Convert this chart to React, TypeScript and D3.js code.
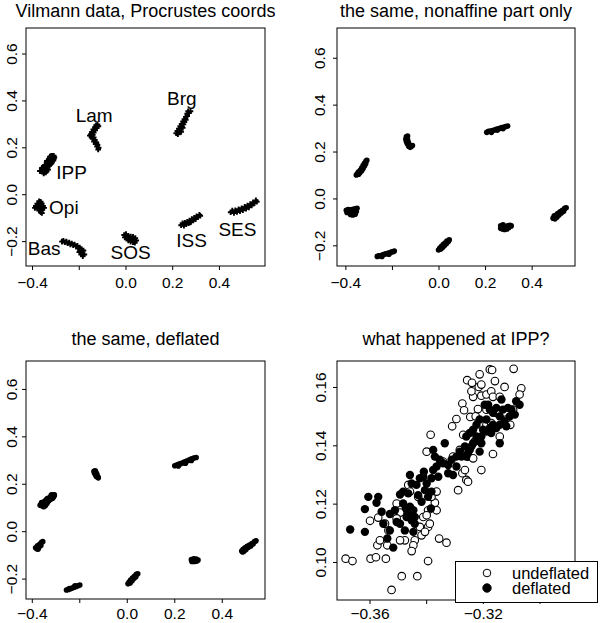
import { useEffect, useRef } from "react";
import * as d3 from "d3";

type Pt = [number, number];

// landmark names and where their labels sit in the first panel
const landmarks = ["IPP", "Lam", "Brg", "Opi", "Bas", "SOS", "ISS", "SES"];
const labelPos: Pt[] = [
  [-0.233, 0.098], [-0.136, 0.34], [0.239, 0.411], [-0.266, -0.054],
  [-0.35, -0.229], [0.02, -0.243], [0.281, -0.193], [0.477, -0.148],
];

// IPP (undeflated = Procrustes coords, deflated)
const ippUndeflated: Pt[] = [
  [-0.3686, 0.1013], [-0.3662, 0.1005], [-0.3598, 0.1013], [-0.3579, 0.1018], [-0.3544, 0.1013],
  [-0.36, 0.1143], [-0.3574, 0.1059], [-0.3539, 0.1059], [-0.3488, 0.0953], [-0.3433, 0.0953],
  [-0.3524, 0.0906], [-0.3395, 0.1005], [-0.3356, 0.1082], [-0.333, 0.1068], [-0.3442, 0.1076],
  [-0.3447, 0.1059], [-0.3453, 0.1039], [-0.3418, 0.1093], [-0.3424, 0.1122], [-0.3395, 0.1122],
  [-0.3389, 0.1133], [-0.3477, 0.1076], [-0.3494, 0.1076], [-0.3535, 0.111], [-0.3565, 0.1076],
  [-0.3547, 0.1133], [-0.3571, 0.1154], [-0.3506, 0.1202], [-0.3494, 0.1171], [-0.3506, 0.1151],
  [-0.3371, 0.1205], [-0.3365, 0.1179], [-0.3383, 0.1225], [-0.3395, 0.1179], [-0.3412, 0.1156],
  [-0.34, 0.1162], [-0.3465, 0.1266], [-0.3459, 0.1243], [-0.343, 0.1225], [-0.3365, 0.1243],
  [-0.3289, 0.1248], [-0.326, 0.1283], [-0.3254, 0.1277], [-0.3207, 0.1317], [-0.3274, 0.1306],
  [-0.3265, 0.1317], [-0.34, 0.138], [-0.3386, 0.1438], [-0.3342, 0.1346], [-0.331, 0.1467],
  [-0.3295, 0.1492], [-0.3271, 0.1438], [-0.3283, 0.1386], [-0.3254, 0.1363], [-0.3236, 0.1357],
  [-0.3166, 0.1372], [-0.323, 0.1415], [-0.3274, 0.1545], [-0.3268, 0.1522], [-0.3246, 0.1499],
  [-0.3227, 0.1501], [-0.3219, 0.1526], [-0.3189, 0.1472], [-0.3172, 0.1478], [-0.3154, 0.1513],
  [-0.3119, 0.149], [-0.3105, 0.1472], [-0.3236, 0.1568], [-0.3207, 0.1572], [-0.3189, 0.1576],
  [-0.3172, 0.1587], [-0.3166, 0.1568], [-0.3142, 0.1568], [-0.3242, 0.1587], [-0.3257, 0.1625],
  [-0.324, 0.1616], [-0.3213, 0.1645], [-0.3216, 0.1602], [-0.3207, 0.161], [-0.3177, 0.1662],
  [-0.3169, 0.166], [-0.3093, 0.1664], [-0.3159, 0.1622], [-0.3125, 0.1602], [-0.3066, 0.1597],
  [-0.3072, 0.1576], [-0.3095, 0.1524], [-0.3142, 0.1432], [-0.3189, 0.1524], [-0.3307, 0.1363],
  [-0.3406, 0.1105],
];
const ippDeflated: Pt[] = [
  [-0.367, 0.1113], [-0.3618, 0.1105], [-0.3618, 0.1183], [-0.3606, 0.1225], [-0.3571, 0.1225],
  [-0.3577, 0.1205], [-0.3559, 0.1174], [-0.353, 0.1166], [-0.3512, 0.1179], [-0.3494, 0.1233],
  [-0.3483, 0.1243], [-0.3465, 0.1237], [-0.3539, 0.1082], [-0.3518, 0.1051], [-0.3494, 0.1133],
  [-0.3477, 0.111], [-0.353, 0.111], [-0.3553, 0.1133], [-0.3459, 0.13], [-0.3453, 0.1271],
  [-0.3424, 0.1289], [-0.341, 0.1311], [-0.3412, 0.1294], [-0.34, 0.1271], [-0.3383, 0.1289],
  [-0.3483, 0.1202], [-0.3473, 0.1185], [-0.3465, 0.1168], [-0.3459, 0.1191], [-0.3447, 0.1179],
  [-0.3442, 0.1156], [-0.3453, 0.1145], [-0.3471, 0.1156], [-0.3442, 0.1133], [-0.3447, 0.1105],
  [-0.343, 0.1231], [-0.3418, 0.1208], [-0.3395, 0.1225], [-0.3383, 0.1243], [-0.3406, 0.1248],
  [-0.3385, 0.1185], [-0.3377, 0.1317], [-0.3365, 0.1329], [-0.3371, 0.1363], [-0.3377, 0.1386],
  [-0.3336, 0.1409], [-0.3342, 0.134], [-0.3324, 0.1334], [-0.3307, 0.13], [-0.3295, 0.1329],
  [-0.3324, 0.1306], [-0.3277, 0.1363], [-0.326, 0.1363], [-0.3254, 0.1375], [-0.3248, 0.1386],
  [-0.3242, 0.1398], [-0.3236, 0.1409], [-0.3224, 0.1432], [-0.3219, 0.1418], [-0.3207, 0.1432],
  [-0.3189, 0.1449], [-0.3177, 0.1461], [-0.3166, 0.1472], [-0.3142, 0.1501], [-0.3189, 0.149],
  [-0.3213, 0.149], [-0.3224, 0.1472], [-0.3236, 0.1455], [-0.326, 0.1432], [-0.3248, 0.1444],
  [-0.3183, 0.1541], [-0.3177, 0.1524], [-0.3166, 0.1513], [-0.3154, 0.153], [-0.3131, 0.1524],
  [-0.3113, 0.153], [-0.3101, 0.1524], [-0.3089, 0.1507], [-0.3107, 0.1501], [-0.3125, 0.1484],
  [-0.3142, 0.1472], [-0.3154, 0.1461], [-0.3172, 0.1444], [-0.3207, 0.1409], [-0.3213, 0.138],
  [-0.3265, 0.1398], [-0.3283, 0.138], [-0.3295, 0.1363], [-0.3312, 0.1352], [-0.3142, 0.1409],
  [-0.3136, 0.1559], [-0.3084, 0.1553], [-0.3072, 0.1541], [-0.3195, 0.1541], [-0.3354, 0.1352],
  [-0.3359, 0.1294], [-0.3436, 0.1266], [-0.3506, 0.1139], [-0.3201, 0.1455], [-0.3119, 0.1467],
];

// the other landmarks, Procrustes coords
const lam1: Pt[] = [
  [-0.122, 0.3], [-0.128, 0.296], [-0.118, 0.292], [-0.133, 0.288], [-0.125, 0.284], [-0.14, 0.278],
  [-0.132, 0.275], [-0.146, 0.268], [-0.138, 0.265], [-0.15, 0.258], [-0.142, 0.255], [-0.148, 0.247],
  [-0.138, 0.244], [-0.143, 0.238], [-0.133, 0.234], [-0.137, 0.227], [-0.128, 0.224], [-0.13, 0.216],
  [-0.122, 0.212], [-0.124, 0.205], [-0.117, 0.2], [-0.119, 0.193], [-0.155, 0.252], [-0.126, 0.22],
];
const brg1: Pt[] = [
  [0.215, 0.262], [0.222, 0.258], [0.22, 0.272], [0.228, 0.268], [0.226, 0.282], [0.234, 0.278],
  [0.232, 0.292], [0.24, 0.29], [0.238, 0.302], [0.246, 0.3], [0.244, 0.312], [0.25, 0.31],
  [0.25, 0.322], [0.256, 0.32], [0.256, 0.332], [0.262, 0.335], [0.262, 0.345], [0.27, 0.348],
  [0.276, 0.356], [0.266, 0.356], [0.236, 0.268], [0.243, 0.285],
];
const opi1: Pt[] = [
  [-0.372, -0.028], [-0.365, -0.03], [-0.38, -0.038], [-0.37, -0.04], [-0.36, -0.038], [-0.386, -0.048],
  [-0.376, -0.05], [-0.365, -0.05], [-0.355, -0.048], [-0.39, -0.056], [-0.38, -0.06], [-0.37, -0.058],
  [-0.358, -0.06], [-0.35, -0.056], [-0.372, -0.068], [-0.362, -0.066], [-0.365, -0.075], [-0.36, -0.078],
];
const bas1: Pt[] = [
  [-0.274, -0.2], [-0.268, -0.196], [-0.262, -0.203], [-0.255, -0.2], [-0.25, -0.207], [-0.243, -0.204],
  [-0.238, -0.212], [-0.232, -0.208], [-0.226, -0.215], [-0.22, -0.212], [-0.214, -0.22], [-0.208, -0.218],
  [-0.205, -0.23], [-0.198, -0.225], [-0.195, -0.24], [-0.19, -0.232], [-0.186, -0.248], [-0.182, -0.238],
  [-0.178, -0.255], [-0.192, -0.255], [-0.2, -0.245], [-0.185, -0.262],
];
const sos1: Pt[] = [
  [-0.008, -0.172], [0.0, -0.168], [0.01, -0.175], [0.02, -0.178], [0.03, -0.18], [0.04, -0.185],
  [-0.005, -0.182], [0.005, -0.185], [0.015, -0.188], [0.025, -0.19], [0.035, -0.192], [0.044, -0.195],
  [0.01, -0.195], [0.02, -0.2], [0.03, -0.202], [0.038, -0.205], [0.0, -0.178],
];
const iss1: Pt[] = [
  [0.236, -0.13], [0.242, -0.122], [0.248, -0.132], [0.252, -0.12], [0.258, -0.126], [0.262, -0.115],
  [0.268, -0.122], [0.272, -0.11], [0.278, -0.116], [0.282, -0.104], [0.288, -0.11], [0.292, -0.098],
  [0.298, -0.104], [0.302, -0.092], [0.308, -0.096], [0.314, -0.086], [0.318, -0.09], [0.245, -0.126],
  [0.275, -0.118],
];
const ses1: Pt[] = [
  [0.448, -0.075], [0.455, -0.068], [0.462, -0.078], [0.468, -0.066], [0.475, -0.074], [0.482, -0.062],
  [0.488, -0.07], [0.495, -0.058], [0.5, -0.066], [0.508, -0.052], [0.514, -0.06], [0.52, -0.046],
  [0.526, -0.054], [0.532, -0.04], [0.538, -0.046], [0.544, -0.032], [0.55, -0.036], [0.556, -0.024],
  [0.56, -0.03],
];

// nonaffine part only
const ipp2: Pt[] = [
  [-0.355, 0.102], [-0.35, 0.108], [-0.345, 0.105], [-0.346, 0.115], [-0.34, 0.112], [-0.338, 0.122],
  [-0.332, 0.12], [-0.332, 0.132], [-0.326, 0.13], [-0.326, 0.142], [-0.32, 0.14], [-0.32, 0.152],
  [-0.315, 0.15], [-0.314, 0.16], [-0.31, 0.165],
];
const lam2: Pt[] = [
  [-0.14, 0.265], [-0.135, 0.268], [-0.142, 0.255], [-0.135, 0.252], [-0.14, 0.245], [-0.132, 0.242],
  [-0.136, 0.235], [-0.128, 0.232], [-0.13, 0.225], [-0.12, 0.224], [-0.114, 0.228], [-0.124, 0.22],
];
const brg2: Pt[] = [
  [0.205, 0.284], [0.213, 0.288], [0.222, 0.289], [0.23, 0.292], [0.238, 0.294], [0.246, 0.297],
  [0.254, 0.299], [0.262, 0.301], [0.27, 0.304], [0.278, 0.306], [0.286, 0.309], [0.295, 0.311],
  [0.225, 0.284], [0.25, 0.293], [0.275, 0.3],
];
const opi2: Pt[] = [
  [-0.398, -0.048], [-0.39, -0.045], [-0.38, -0.046], [-0.37, -0.044], [-0.36, -0.042], [-0.352, -0.04],
  [-0.395, -0.058], [-0.385, -0.058], [-0.375, -0.056], [-0.365, -0.056], [-0.355, -0.054], [-0.38, -0.066],
  [-0.37, -0.068], [-0.36, -0.065],
];
const bas2: Pt[] = [
  [-0.265, -0.245], [-0.258, -0.242], [-0.25, -0.242], [-0.242, -0.238], [-0.235, -0.236], [-0.228, -0.234],
  [-0.22, -0.232], [-0.212, -0.23], [-0.205, -0.226], [-0.198, -0.225], [-0.192, -0.222], [-0.245, -0.245],
  [-0.215, -0.236],
];
const sos2: Pt[] = [
  [-0.002, -0.218], [0.003, -0.21], [0.008, -0.214], [0.01, -0.203], [0.016, -0.206], [0.018, -0.195],
  [0.024, -0.198], [0.026, -0.188], [0.032, -0.19], [0.034, -0.18], [0.04, -0.182], [0.044, -0.174],
];
const iss2: Pt[] = [
  [0.265, -0.115], [0.265, -0.125], [0.272, -0.128], [0.275, -0.118], [0.282, -0.13], [0.285, -0.12],
  [0.292, -0.128], [0.295, -0.115], [0.3, -0.122], [0.305, -0.112], [0.31, -0.115], [0.275, -0.11],
];
const ses2: Pt[] = [
  [0.49, -0.082], [0.495, -0.072], [0.498, -0.085], [0.502, -0.07], [0.506, -0.078], [0.51, -0.062],
  [0.515, -0.068], [0.52, -0.055], [0.525, -0.06], [0.53, -0.048], [0.535, -0.052], [0.54, -0.04],
  [0.546, -0.038],
];

// deflated
const lam3: Pt[] = [
  [-0.14, 0.255], [-0.135, 0.257], [-0.138, 0.248], [-0.132, 0.25], [-0.134, 0.24], [-0.128, 0.242],
  [-0.13, 0.233], [-0.124, 0.232], [-0.122, 0.227],
];
const brg3: Pt[] = [
  [0.2, 0.278], [0.208, 0.281], [0.216, 0.284], [0.224, 0.287], [0.232, 0.29], [0.24, 0.294],
  [0.248, 0.297], [0.256, 0.3], [0.264, 0.304], [0.272, 0.307], [0.28, 0.311], [0.29, 0.313],
  [0.215, 0.277], [0.245, 0.289], [0.27, 0.3],
];
const opi3: Pt[] = [
  [-0.386, -0.068], [-0.38, -0.072], [-0.378, -0.06], [-0.372, -0.066], [-0.37, -0.054], [-0.364, -0.058],
  [-0.362, -0.046], [-0.356, -0.042], [-0.376, -0.074],
];
const bas3: Pt[] = [
  [-0.256, -0.246], [-0.248, -0.244], [-0.24, -0.241], [-0.232, -0.238], [-0.224, -0.234], [-0.216, -0.231],
  [-0.208, -0.228], [-0.2, -0.225], [-0.244, -0.24], [-0.22, -0.228],
];
const sos3: Pt[] = [
  [0.003, -0.22], [0.008, -0.212], [0.012, -0.216], [0.014, -0.204], [0.02, -0.207], [0.022, -0.196],
  [0.028, -0.198], [0.03, -0.188], [0.036, -0.19], [0.038, -0.18], [0.044, -0.178],
];
const iss3: Pt[] = [
  [0.27, -0.118], [0.272, -0.126], [0.28, -0.114], [0.282, -0.126], [0.29, -0.115], [0.292, -0.125],
  [0.298, -0.12], [0.276, -0.122],
];
const ses3: Pt[] = [
  [0.482, -0.082], [0.488, -0.074], [0.492, -0.082], [0.496, -0.068], [0.5, -0.075], [0.505, -0.062],
  [0.51, -0.066], [0.515, -0.056], [0.52, -0.06], [0.525, -0.05], [0.53, -0.052], [0.536, -0.042],
  [0.542, -0.038], [0.486, -0.086],
];

const titles = [
  "Vilmann data, Procrustes coords",
  "the same, nonaffine part only",
  "the same, deflated",
  "what happened at IPP?",
];
const coordTicks = [-0.4, -0.2, 0, 0.2, 0.4, 0.6];
const coordXLabels = [-0.4, 0, 0.2, 0.4];
const coordYLabels = [-0.2, 0, 0.2, 0.4, 0.6];
const ippXTicks = [-0.36, -0.34, -0.32, -0.3];
const ippXTickLabels = [-0.36, -0.32];
const ippYTicks = [0.1, 0.12, 0.14, 0.16];
const legendLabels = ["undeflated", "deflated"];

const FONT = "'Liberation Sans', Arial, Helvetica, sans-serif";

export default function App() {
  let ref = useRef<SVGSVGElement>(null);

  useEffect(() => {
    const svg = d3.select(ref.current);
    svg.selectAll("*").remove();

    // one base-graphics style panel: box, ticks, rotated y labels, title
    const panel = (o: any) => {
      const [x0, y0, x1, y1] = o.box;
      const x = d3.scaleLinear(o.xDomain, [x0, x1]);
      const y = d3.scaleLinear(o.yDomain, [y1, y0]);
      const g = svg.append("g");

      g.append("text")
        .attr("x", (x0 + x1) / 2)
        .attr("y", o.titleY)
        .attr("text-anchor", "middle")
        .style("font-size", "18px")
        .text(o.title);

      const xt = o.xTicks.filter((t: number) => x(t) >= x0 - 0.5 && x(t) <= x1 + 0.5);
      const yt = o.yTicks.filter((t: number) => y(t) >= y0 - 0.5 && y(t) <= y1 + 0.5);

      g.selectAll(".xt").data(xt).join("line")
        .attr("x1", (d: number) => x(d)).attr("x2", (d: number) => x(d))
        .attr("y1", y1).attr("y2", y1 + 4)
        .attr("stroke", "#000");
      g.selectAll(".xl").data(o.xLabels).join("text")
        .attr("x", (d: number) => x(d))
        .attr("y", y1 + o.xGap)
        .attr("text-anchor", "middle")
        .style("font-size", "15.5px")
        .text((d: number) => o.fmt(d));

      g.selectAll(".yt").data(yt).join("line")
        .attr("x1", x0 - 4).attr("x2", x0)
        .attr("y1", (d: number) => y(d)).attr("y2", (d: number) => y(d))
        .attr("stroke", "#000");
      g.selectAll(".yl").data(o.yLabels).join("text")
        .attr("transform", (d: number) => `translate(${x0 - o.yGap},${y(d)}) rotate(-90)`)
        .attr("text-anchor", "middle")
        .style("font-size", "15.5px")
        .text((d: number) => o.fmt(d));

      g.append("rect")
        .attr("x", x0).attr("y", y0)
        .attr("width", x1 - x0).attr("height", y1 - y0)
        .attr("fill", "none").attr("stroke", "#000").attr("stroke-width", 1);

      return { g, x, y };
    };

    const f1 = d3.format(".1f");
    const f2 = d3.format(".2f");

    // panel 1: raw coords, drawn as small crosses with landmark names
    const p1 = panel({
      box: [26, 28, 265, 266], xDomain: [-0.428, 0.595], yDomain: [-0.304, 0.711],
      xTicks: coordTicks, xLabels: coordXLabels, yTicks: coordTicks, yLabels: coordYLabels,
      title: titles[0], titleY: 17, yGap: 9, xGap: 22, fmt: f1,
    });
    const raw = [ippUndeflated, lam1, brg1, opi1, bas1, sos1, iss1, ses1].flat();
    p1.g.append("path")
      .attr("d", raw.map(([a, b]) => {
        const px = p1.x(a), py = p1.y(b);
        return `M${px - 2.8},${py}h5.6M${px},${py - 2.8}v5.6`;
      }).join(""))
      .attr("stroke", "#000").attr("stroke-width", 1.9).attr("fill", "none");
    p1.g.selectAll(".lab").data(landmarks).join("text")
      .attr("x", (d, i) => p1.x(labelPos[i][0]))
      .attr("y", (d, i) => p1.y(labelPos[i][1]))
      .attr("dy", "0.36em")
      .attr("text-anchor", "middle")
      .style("font-size", "19px")
      .text((d) => d);

    // panels 2 and 3: small filled dots
    const dots = (p: any, pts: Pt[]) => {
      p.g.selectAll(".pt").data(pts).join("circle")
        .attr("cx", (d: Pt) => p.x(d[0]))
        .attr("cy", (d: Pt) => p.y(d[1]))
        .attr("r", 2.8)
        .attr("fill", "#000");
    };
    const p2 = panel({
      box: [337, 28, 575, 266], xDomain: [-0.438, 0.584], yDomain: [-0.286, 0.729],
      xTicks: coordTicks, xLabels: coordXLabels, yTicks: coordTicks, yLabels: coordYLabels,
      title: titles[1], titleY: 17, yGap: 12, xGap: 22, fmt: f1,
    });
    dots(p2, [ipp2, lam2, brg2, opi2, bas2, sos2, iss2, ses2].flat());

    const p3 = panel({
      box: [26, 361, 265, 599], xDomain: [-0.4265, 0.58], yDomain: [-0.284, 0.72],
      xTicks: coordTicks, xLabels: coordXLabels, yTicks: coordTicks, yLabels: coordYLabels,
      title: titles[2], titleY: 345, yGap: 9, xGap: 20, fmt: f1,
    });
    dots(p3, [ippDeflated, lam3, brg3, opi3, bas3, sos3, iss3, ses3].flat());

    // panel 4: IPP close up
    const p4 = panel({
      box: [337, 361, 575, 600], xDomain: [-0.37165, -0.28764], yDomain: [0.08714, 0.16908],
      xTicks: ippXTicks, xLabels: ippXTickLabels, yTicks: ippYTicks, yLabels: ippYTicks,
      title: titles[3], titleY: 345, yGap: 11, xGap: 19, fmt: f2,
    });
    p4.g.append("g").selectAll("circle").data(ippUndeflated).join("circle")
      .attr("cx", (d) => p4.x(d[0])).attr("cy", (d) => p4.y(d[1]))
      .attr("r", 3.8).attr("fill", "#fff").attr("stroke", "#000").attr("stroke-width", 1.1);
    p4.g.append("g").selectAll("circle").data(ippDeflated).join("circle")
      .attr("cx", (d) => p4.x(d[0])).attr("cy", (d) => p4.y(d[1]))
      .attr("r", 4.2).attr("fill", "#000");

    // legend, bottom right, spilling over the box edge like R's
    const lg = svg.append("g");
    lg.append("rect")
      .attr("x", 455.5).attr("y", 561.5).attr("width", 142).attr("height", 41)
      .attr("fill", "#fff").attr("stroke", "#000");
    lg.selectAll("circle").data(legendLabels).join("circle")
      .attr("cx", 487).attr("cy", (d, i) => 573 + i * 15)
      .attr("r", (d, i) => (i ? 4.2 : 3.8))
      .attr("fill", (d, i) => (i ? "#000" : "#fff"))
      .attr("stroke", "#000");
    lg.selectAll("text").data(legendLabels).join("text")
      .attr("x", 512).attr("y", (d, i) => 578.5 + i * 15)
      .style("font-size", "16.5px")
      .text((d) => d);
  }, []);

  return (
    <svg
      ref={ref}
      width={600}
      height={623}
      style={{ position: "absolute", left: 0, top: 0, background: "#fff", fontFamily: FONT }}
    />
  );
}
